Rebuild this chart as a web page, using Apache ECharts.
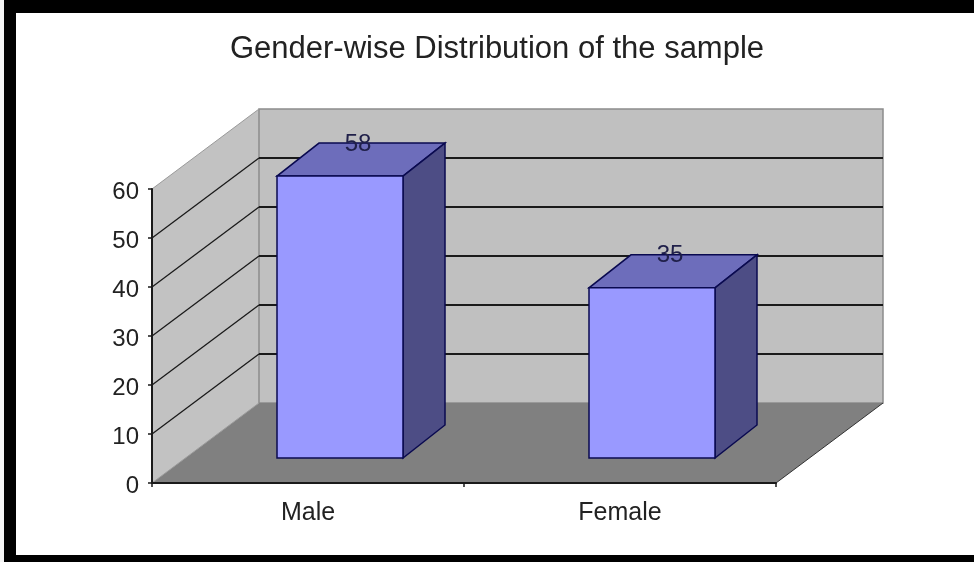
<!DOCTYPE html>
<html>
<head>
<meta charset="utf-8">
<style>html,body{margin:0;padding:0;background:#fff}#c{width:974px;height:562px}</style>
<script src="https://cdn.jsdelivr.net/npm/echarts@6/dist/echarts.min.js"></script>
</head>
<body>
<div id="c"></div>
<script>
const categories = ['Male', 'Female'];
const values = [58, 35];
const yTicks = [0, 10, 20, 30, 40, 50, 60];
const titleText = 'Gender-wise Distribution of the sample';

const FONT = '"Liberation Sans", Arial, sans-serif';
const WALL_DX = 107, WALL_DY = -80;
const BAR_DX = 32, BAR_DY = -25, SIDE_DX = 42, SIDE_DY = -33;
const BAR_W = 126, BAR_SCALE = 0.992;
const BAR_LINE = '#0a0a50';

function poly(points, fill, stroke, lineWidth) {
  return { type: 'polygon', shape: { points }, style: { fill, stroke: stroke || 'none', lineWidth: lineWidth || 0 } };
}
function seg(a, b, stroke, lineWidth) {
  return { type: 'line', shape: { x1: a[0], y1: a[1], x2: b[0], y2: b[1] }, style: { stroke, lineWidth } };
}

function renderWalls(params, api) {
  const r = params.coordSys;
  const y0 = api.coord([0, 0])[1], yMax = api.coord([0, 60])[1];
  const xL = r.x, xR = r.x + r.width;
  const kids = [
    poly([[xL, y0], [xL + WALL_DX, y0 + WALL_DY], [xL + WALL_DX, yMax + WALL_DY], [xL, yMax]], '#c2c2c2'),
    poly([[xL + WALL_DX, y0 + WALL_DY], [xR + WALL_DX, y0 + WALL_DY], [xR + WALL_DX, yMax + WALL_DY], [xL + WALL_DX, yMax + WALL_DY]], '#c0c0c0', '#8c8c8c', 1.5),
    poly([[xL, y0], [xR, y0], [xR + WALL_DX, y0 + WALL_DY], [xL + WALL_DX, y0 + WALL_DY]], '#808080'),
    seg([xL, yMax], [xL + WALL_DX, yMax + WALL_DY], '#9a9a9a', 1),
    seg([xL, y0], [xL + WALL_DX, y0 + WALL_DY], '#9a9a9a', 1),
    seg([xR, y0], [xR + WALL_DX, y0 + WALL_DY], '#333333', 1)
  ];
  yTicks.forEach(function (t) {
    if (t === 0 || t === 60) return;
    const y = api.coord([0, t])[1];
    kids.push(seg([xL, y], [xL + WALL_DX, y + WALL_DY], '#1a1a1a', 1.3));
    kids.push(seg([xL + WALL_DX, y + WALL_DY], [xR + WALL_DX, y + WALL_DY], '#1a1a1a', 2));
  });
  return { type: 'group', children: kids };
}

function renderBar(params, api) {
  const c = api.coord([api.value(0), 0]);
  const t = api.coord([api.value(0), api.value(1)]);
  const x0 = c[0] - BAR_W / 2 + BAR_DX, x1 = x0 + BAR_W;
  const yB = c[1] + BAR_DY;
  const yT = yB - (c[1] - t[1]) * BAR_SCALE;
  return {
    type: 'group',
    children: [
      poly([[x0, yT], [x1, yT], [x1 + SIDE_DX, yT + SIDE_DY], [x0 + SIDE_DX, yT + SIDE_DY]], '#6d6dbb', BAR_LINE, 1.5),
      poly([[x1, yT], [x1 + SIDE_DX, yT + SIDE_DY], [x1 + SIDE_DX, yB + SIDE_DY], [x1, yB]], '#4d4d85', BAR_LINE, 1.5),
      { type: 'rect', shape: { x: x0, y: yT, width: BAR_W, height: yB - yT }, style: { fill: '#9999ff', stroke: BAR_LINE, lineWidth: 1.5 } },
      { type: 'text', style: { text: String(api.value(1)), x: x0 + 81, y: yT + SIDE_DY + 1, align: 'center', verticalAlign: 'middle', font: '24px ' + FONT, fill: '#20204a' } }
    ]
  };
}

const chart = echarts.init(document.getElementById('c'), null, { renderer: 'canvas' });
chart.setOption({
  animation: false,
  backgroundColor: '#ffffff',
  title: {
    text: titleText, left: 492, top: 29, textAlign: 'center',
    textStyle: { fontFamily: FONT, fontSize: 31, fontWeight: 'normal', color: '#222222' }
  },
  grid: { left: 152, right: 198, top: 189, bottom: 79 },
  xAxis: {
    type: 'category', data: categories, z: 3,
    axisLine: { lineStyle: { color: '#1a1a1a', width: 2 } },
    axisTick: { show: true, length: 4, lineStyle: { color: '#1a1a1a', width: 1.5 } },
    axisLabel: { fontFamily: FONT, fontSize: 25, color: '#222222', margin: 18 },
    splitLine: { show: false }
  },
  yAxis: {
    type: 'value', min: 0, max: 60, interval: 10, z: 3,
    axisLine: { show: true, lineStyle: { color: '#1a1a1a', width: 2 } },
    axisTick: { show: true, length: 4, lineStyle: { color: '#1a1a1a', width: 1.5 } },
    axisLabel: { fontFamily: FONT, fontSize: 24, color: '#222222', margin: 13, verticalAlign: 'top', lineHeight: 6 },
    splitLine: { show: false }
  },
  series: [
    { type: 'custom', name: 'walls', z: 1, silent: true, renderItem: renderWalls, data: [[0, 0]], encode: { x: 0, y: 1 } },
    { type: 'custom', name: 'Sample', z: 4, renderItem: renderBar, data: values.map(function (v, i) { return [i, v]; }), encode: { x: 0, y: 1 } }
  ],
  graphic: [
    { type: 'rect', z: 10, shape: { x: 0, y: 0, width: 4, height: 562 }, style: { fill: '#f4f4f4' } },
    { type: 'rect', z: 10, shape: { x: 4, y: 0, width: 970, height: 13 }, style: { fill: '#000000' } },
    { type: 'rect', z: 10, shape: { x: 4, y: 0, width: 12, height: 562 }, style: { fill: '#000000' } },
    { type: 'rect', z: 10, shape: { x: 4, y: 555, width: 970, height: 7 }, style: { fill: '#000000' } }
  ]
});
</script>
</body>
</html>
